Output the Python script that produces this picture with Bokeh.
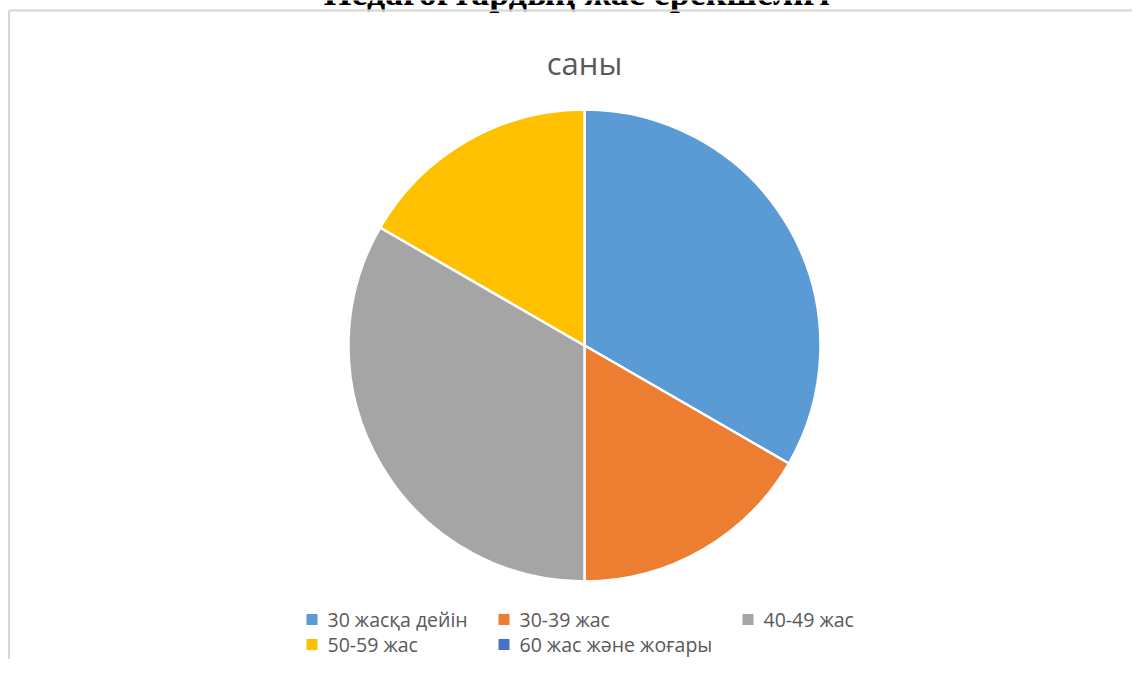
import math
from bokeh.plotting import figure
from bokeh.models import Range1d, ColumnDataSource
from bokeh.core.properties import value
from bokeh.embed import file_html
from bokeh.resources import INLINE

# ---- data ----
categories = ["30 жасқа дейін", "30-39 жас", "40-49 жас", "50-59 жас", "60 жас және жоғары"]
counts = [2, 1, 2, 1, 0]
colors = ["#5B9BD5", "#ED7D31", "#A5A5A5", "#FFC000", "#4472C4"]
title_text = "Педагогтардың жас ерекшелігі"
subtitle_text = "саны"

W, H = 1132, 659

p = figure(width=W, height=H, output_backend="svg", toolbar_location=None,
           x_range=Range1d(0, W), y_range=Range1d(0, H), min_border=0)
p.axis.visible = False
p.grid.visible = False
p.outline_line_color = None
p.background_fill_color = "white"
p.border_fill_color = "white"

# document title (cut off at top, as in the source screenshot)
p.text(x=[576], y=[H + 8], text=[title_text], text_align="center",
       text_baseline="alphabetic", text_font=value("Liberation Serif"),
       text_font_style="bold", text_font_size="36px", text_color="#000000")

# frame of the embedded chart
p.segment(x0=[8.5, 8.5], y0=[0, H - 10], x1=[8.5, W], y1=[H - 10, H - 10],
          line_color="#d6d6d6", line_width=2)

# chart title
p.text(x=[584], y=[H - 62], text=[subtitle_text], text_align="center",
       text_baseline="middle", text_font=value("Open Sans"),
       text_font_size="31px", text_color="#595959")

# pie
total = sum(counts)
starts, ends, cols = [], [], []
cum = 0
for c, col in zip(counts, colors):
    if c > 0:
        a0 = math.pi / 2 - 2 * math.pi * cum / total
        a1 = math.pi / 2 - 2 * math.pi * (cum + c) / total
        starts.append(a0)
        ends.append(a1)
        cols.append(col)
    cum += c
src = ColumnDataSource(dict(x=[584] * len(starts), y=[H - 345] * len(starts),
                            start=starts, end=ends, color=cols))
p.wedge(x="x", y="y", radius=236, start_angle="start", end_angle="end",
        direction="clock", fill_color="color", line_color="white",
        line_width=2.5, source=src)

# legend (manual, Excel-like)
leg_x = [306, 498, 742, 306, 498]
leg_row = [619, 619, 619, 644, 644]
leg_y = [H - r for r in leg_row]
p.rect(x=[lx + 5.5 for lx in leg_x], y=leg_y, width=11, height=11,
       fill_color=colors, line_color=None)
p.text(x=[lx + 21 for lx in leg_x], y=leg_y, text=categories,
       text_baseline="middle", text_align="left",
       text_font=value("Open Sans"), text_font_size="19.5px",
       text_color="#595959")

open("out.html", "w").write(file_html(p, INLINE))
